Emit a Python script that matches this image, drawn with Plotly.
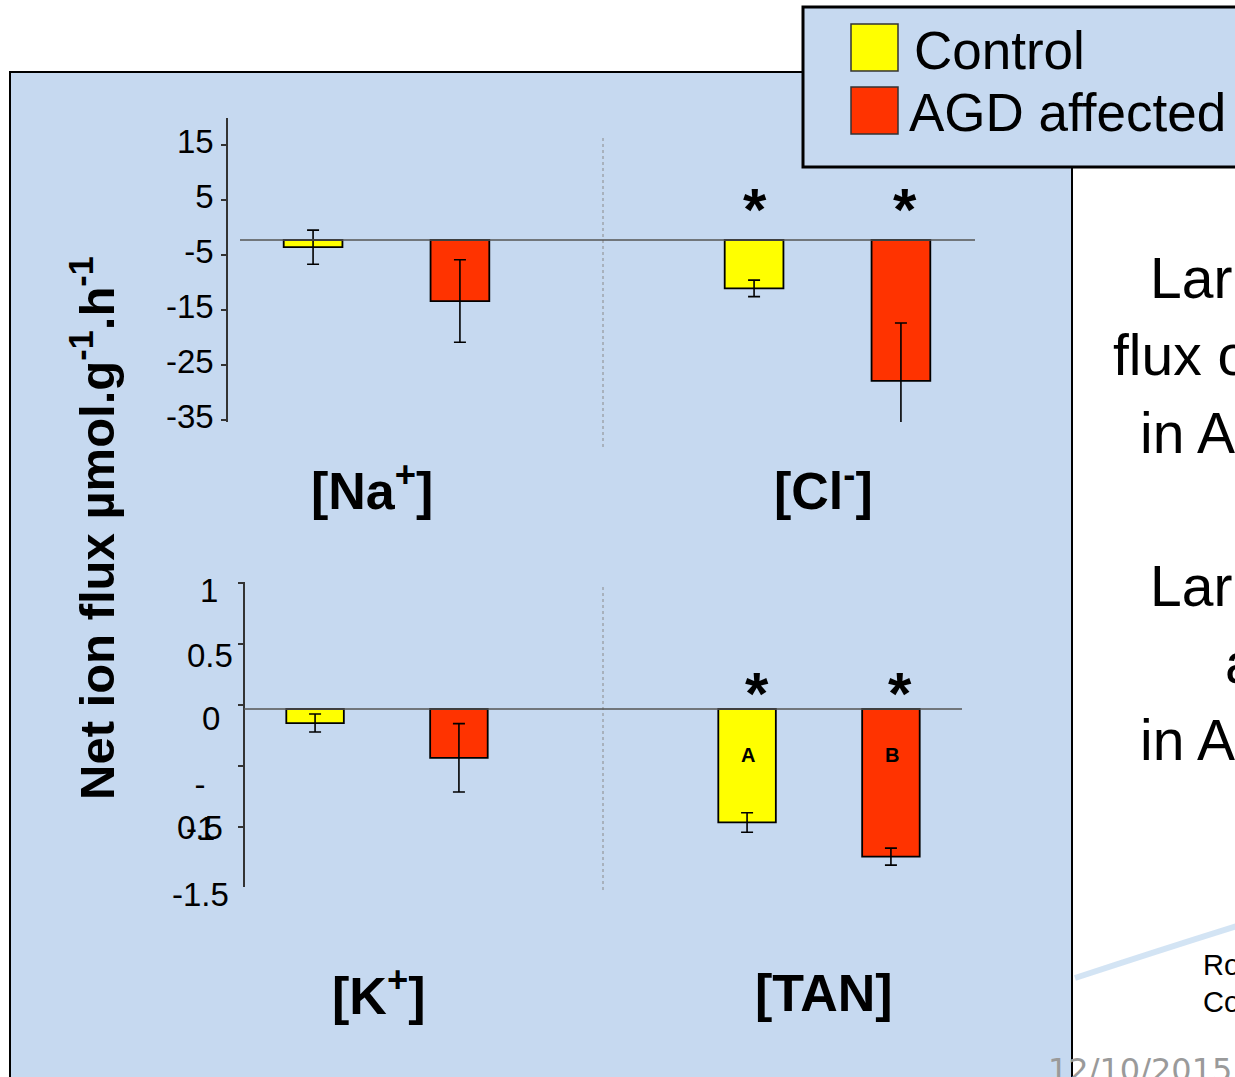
import plotly.graph_objects as go

W, H = 1235, 1077

# ---------------- data ----------------
ions_top = ["[Na<sup>+</sup>]", "[Cl<sup>-</sup>]"]
control_top = [-1.3, -8.8]
control_top_err = [3.1, 1.5]
agd_top = [-11.1, -25.6]
agd_top_err = [7.5, 10.5]

ions_bottom = ["[K<sup>+</sup>]", "[TAN]"]
control_bottom = [-0.115, -0.93]
control_bottom_err = [0.074, 0.08]
agd_bottom = [-0.40, -1.21]
agd_bottom_err = [0.28, 0.07]

top_tick_labels = [15, 5, -5, -15, -25, -35]
bottom_tick_labels = [1, 0.5, 0, -0.5, -1, -1.5]

series_names = ["Control", "AGD affected"]
series_colors = ["#FFFF00", "#FF3300"]

# ---------------- helpers ----------------
def px(x):
    return x / W

def py(y):
    return 1 - y / H

FONT = "Liberation Sans, Arial, sans-serif"
PANEL = "#C6D9F0"
TOP_TICK_SHIFT = 2.27
BOTTOM_TICK_SHIFT = 0.033

err_style = dict(type="data", color="black", thickness=1.6, width=6)
line_style = dict(color="black", width=1.8)

fig = go.Figure()
fig.add_trace(go.Bar(x=ions_top, y=control_top, name=series_names[0],
                     marker=dict(color=series_colors[0], line=line_style),
                     error_y=dict(array=control_top_err, **err_style),
                     xaxis="x", yaxis="y", showlegend=False, cliponaxis=False))
fig.add_trace(go.Bar(x=ions_top, y=agd_top, name=series_names[1],
                     marker=dict(color=series_colors[1], line=line_style),
                     error_y=dict(array=agd_top_err, **err_style),
                     xaxis="x", yaxis="y", showlegend=False, cliponaxis=False))
fig.add_trace(go.Bar(x=ions_bottom, y=control_bottom, name=series_names[0],
                     marker=dict(color=series_colors[0], line=line_style),
                     error_y=dict(array=control_bottom_err, **err_style),
                     xaxis="x2", yaxis="y2", showlegend=False, cliponaxis=False))
fig.add_trace(go.Bar(x=ions_bottom, y=agd_bottom, name=series_names[1],
                     marker=dict(color=series_colors[1], line=line_style),
                     error_y=dict(array=agd_bottom_err, **err_style),
                     xaxis="x2", yaxis="y2", showlegend=False, cliponaxis=False))

tick_font = dict(family=FONT, size=33, color="black")

layout = dict(
    width=W, height=H, autosize=False,
    margin=dict(l=0, r=0, t=0, b=0, pad=0, autoexpand=False),
    paper_bgcolor="white",
    plot_bgcolor="rgba(0,0,0,0)",
    barmode="group", bargap=0.334, bargroupgap=0.6,
    showlegend=False,
    xaxis=dict(domain=[px(166), px(1048)], anchor="y", showline=False, showgrid=False,
               zeroline=False, showticklabels=False, automargin=False),
    yaxis=dict(domain=[py(422), py(118)], range=[-33.09, 22.18], anchor="free",
               position=px(227), showline=True, linecolor="#333", linewidth=1.5,
               showgrid=False, zeroline=False, ticks="outside", ticklen=5,
               tickcolor="#333", tickwidth=1.5, automargin=False,
               tickvals=[v + TOP_TICK_SHIFT for v in top_tick_labels],
               ticktext=[str(v) for v in top_tick_labels],
               tickfont=tick_font, ticklabelstandoff=1, ticklabelshift=-4),
    xaxis2=dict(domain=[px(171), px(1035)], anchor="y2", showline=False, showgrid=False,
                zeroline=False, showticklabels=False, automargin=False),
    yaxis2=dict(domain=[py(887), py(582)], range=[-1.459, 1.041], anchor="free",
                position=px(244), showline=True, linecolor="#333", linewidth=1.5,
                showgrid=False, zeroline=False, ticks="outside", ticklen=5,
                tickcolor="#333", tickwidth=1.5, automargin=False,
                tickvals=[v + BOTTOM_TICK_SHIFT for v in bottom_tick_labels],
                showticklabels=False),
)

shapes = [
    # slide panel
    dict(type="rect", xref="paper", yref="paper", x0=px(10), x1=px(1072), y0=py(1100), y1=py(72),
         fillcolor=PANEL, line=dict(color="black", width=2), layer="below"),
    # swoosh
    dict(type="path", xref="paper", yref="paper",
         path=f"M {px(1075)},{py(978)} Q {px(1160)},{py(950)} {px(1240)},{py(925)}",
         line=dict(color="rgba(175,205,235,0.55)", width=6), layer="below"),
    # legend box
    dict(type="rect", xref="paper", yref="paper", x0=px(803), x1=px(1250), y0=py(167), y1=py(7),
         fillcolor=PANEL, line=dict(color="black", width=3), layer="below"),
    dict(type="rect", xref="paper", yref="paper", x0=px(851), x1=px(898), y0=py(71), y1=py(24),
         fillcolor=series_colors[0], line=dict(color="#333", width=1.5), layer="below"),
    dict(type="rect", xref="paper", yref="paper", x0=px(851), x1=px(898), y0=py(134), y1=py(87),
         fillcolor=series_colors[1], line=dict(color="#333", width=1.5), layer="below"),
    # zero lines
    dict(type="line", xref="paper", yref="y", x0=px(240), x1=px(975), y0=0, y1=0,
         line=dict(color="#555", width=1.5), layer="above"),
    dict(type="line", xref="paper", yref="y2", x0=px(244), x1=px(962), y0=0, y1=0,
         line=dict(color="#555", width=1.5), layer="above"),
    # dotted separators
    dict(type="line", xref="paper", yref="paper", x0=px(603), x1=px(603), y0=py(447), y1=py(135),
         line=dict(color="#8a8a8a", width=1, dash="dot"), layer="below"),
    dict(type="line", xref="paper", yref="paper", x0=px(603), x1=px(603), y0=py(890), y1=py(585),
         line=dict(color="#8a8a8a", width=1, dash="dot"), layer="below"),
]
layout["shapes"] = shapes

def ann(text, x, y, size, xanchor="center", yanchor="middle", bold=False, color="black",
        family=FONT, angle=0, align="center"):
    return dict(text=text, xref="paper", yref="paper", x=px(x), y=py(y), showarrow=False,
                xanchor=xanchor, yanchor=yanchor, textangle=angle, align=align,
                font=dict(family=family, size=size, color=color,
                          weight="bold" if bold else "normal"))

annotations = [
    ann("Net ion flux µmol.g<sup>-1</sup>.h<sup>-1</sup>", 93, 528, 49, bold=True, angle=-90),
    # category labels
    ann(ions_top[0], 372, 487, 52, bold=True),
    ann(ions_top[1], 823, 487, 52, bold=True),
    ann(ions_bottom[0], 378, 992, 52, bold=True),
    ann(ions_bottom[1], 824, 993, 52, bold=True),
    # significance stars
    ann("*", 755, 210, 60, bold=True),
    ann("*", 905, 210, 60, bold=True),
    ann("*", 757, 693, 60, bold=True),
    ann("*", 900, 693, 60, bold=True),
    # bar letters
    ann("A", 748, 755, 20, bold=True),
    ann("B", 892, 755, 20, bold=True),
    # bottom y tick labels
    ann("1", 209, 590, 33),
    ann("0.5", 210, 655, 33),
    ann("0", 211, 718, 33),
    ann("-<br>0.5", 200, 806, 33),
    ann("-1", 200, 828, 33),
    ann("-1.5", 201, 894, 33),
    # legend
    ann(series_names[0], 912, 50, 53, xanchor="left"),
    ann(series_names[1], 907, 112, 53, xanchor="left"),
    # right-hand slide text
    ann("Lar", 1148, 278, 57, xanchor="left"),
    ann("flux o", 1111, 355, 57, xanchor="left"),
    ann("in A", 1138, 433, 57, xanchor="left"),
    ann("Lar", 1148, 586, 57, xanchor="left"),
    ann("a", 1223, 663, 57, xanchor="left"),
    ann("in A", 1138, 740, 57, xanchor="left"),
    ann("Ro", 1201, 965, 29, xanchor="left"),
    ann("Co", 1201, 1002, 29, xanchor="left"),
    ann("12/10/2015", 1046, 1070, 32, xanchor="left", color="#9a9a9a", family="DejaVu Sans"),
]
layout["annotations"] = annotations

fig.update_layout(**layout)
fig.write_html("out.html")
